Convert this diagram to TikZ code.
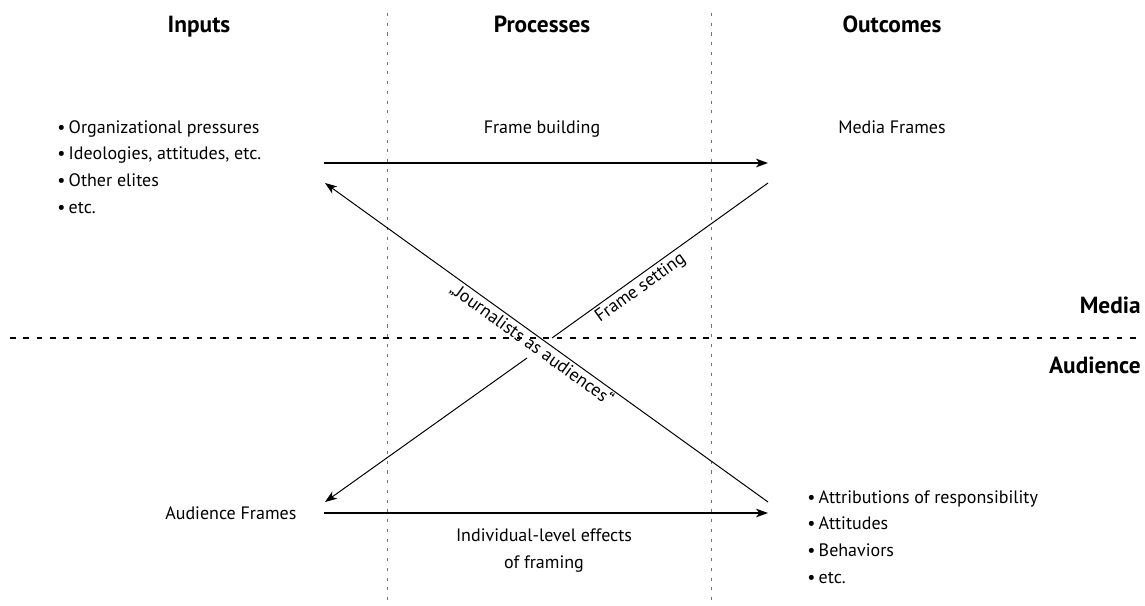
\documentclass[tikz,border=0pt]{standalone}
\usepackage{fontspec}
\setmainfont{PT Sans}
\usetikzlibrary{arrows.meta}
\newcommand{\bul}{\textbullet\hspace{2.5pt}}
\begin{document}
\begin{tikzpicture}[x=0.75pt,y=-0.75pt,
	head/.style={font=\bfseries\fontsize{17.5}{20}\selectfont, inner sep=0pt, anchor=base},
	side/.style={font=\bfseries\fontsize{17.5}{20}\selectfont, inner sep=0pt, anchor=base east},
	txt/.style={font=\fontsize{13.5}{19.9}\selectfont, inner sep=0pt},
	listnode/.style={txt, align=left, anchor=base west},
	flow/.style={-{Stealth[length=9pt,width=6.5pt,inset=2.5pt]}, line width=1.1pt},
	cross/.style={line width=0.75pt},
	crossarrow/.style={cross, -{Stealth[length=9pt,width=6.5pt,inset=2.5pt]}},
	column/.style={black!55, line width=0.7pt, dash pattern=on 2.3pt off 5pt},
	split/.style={line width=0.8pt, dash pattern=on 4.3pt off 5.7pt},
]
\useasboundingbox (0,0) rectangle (1145,606);

\coordinate (colA top) at (387,13);
\coordinate (colA bot) at (387,603);
\coordinate (colB top) at (711,13);
\coordinate (colB bot) at (711,603);
\coordinate (split left) at (10,338);
\coordinate (split right) at (1141,338);
\draw[column] (colA top) -- (colA bot);
\draw[column] (colB top) -- (colB bot);
\draw[split] (split left) -- (split right);

\node[head] (inputs) at (199,33) {Inputs};
\node[head] (processes) at (542,33) {Processes};
\node[head] (outcomes) at (892,33) {Outcomes};
\node[side] (media) at (1141,313) {Media};
\node[side] (audience) at (1141,373) {Audience};

\node[listnode] (pressures) at (57,213) {\bul Organizational pressures\\ \bul Ideologies, attitudes, etc.\\ \bul Other elites\\ \bul etc.};
\node[txt, anchor=base] (building) at (542,134) {Frame building};
\node[txt, anchor=base west] (mediaframes) at (838,134) {Media Frames};
\node[txt, anchor=base west] (audframes) at (165,519) {Audience Frames};
\node[txt, anchor=base, align=center] (effects) at (544,568) {Individual-level effects\\ of framing};
\node[listnode] (responses) at (807,583) {\bul Attributions of responsibility\\ \bul Attitudes\\ \bul Behaviors\\ \bul etc.};

\coordinate (in top) at (324,163);
\coordinate (out top) at (768,163);
\coordinate (in bot) at (324,513);
\coordinate (out bot) at (768,513);
\coordinate (media end) at (768,183);
\coordinate (aud tip) at (325,502);
\coordinate (aud start) at (768,502);
\coordinate (media tip) at (325,183);
\coordinate (set a) at (552,338);
\coordinate (set b) at (527,358);

\draw[flow] (in top) -- (out top);
\draw[flow] (in bot) -- (out bot);
\draw[crossarrow] (aud start) -- node[txt, sloped, below, inner sep=1pt, pos=0.52] (journalists) {„Journalists as audiences“} (media tip);
\draw[cross] (media end) -- node[txt, sloped, below, inner sep=2pt, pos=0.62] (setting) {Frame setting} (set a);
\draw[crossarrow] (set b) -- (aud tip);

\end{tikzpicture}
\end{document}
